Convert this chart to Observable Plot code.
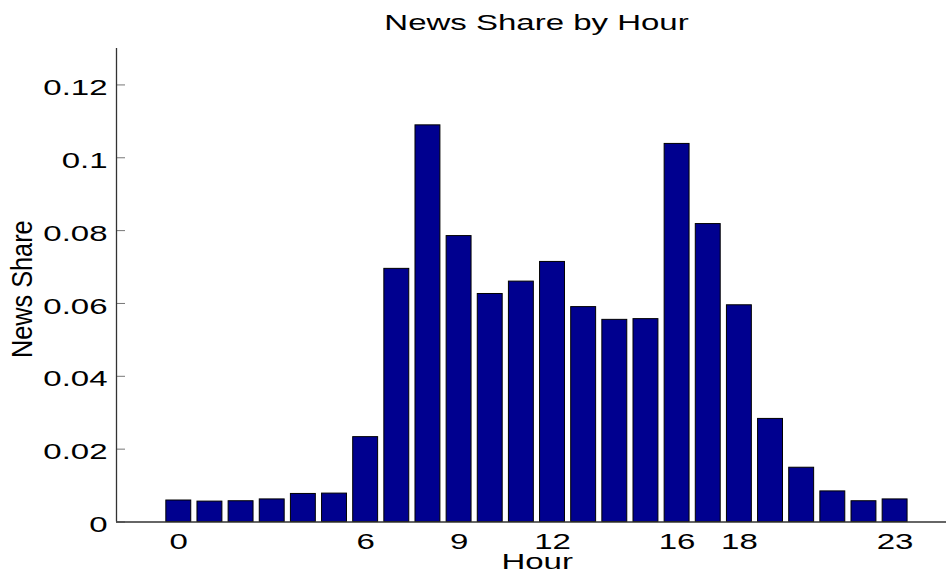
<!DOCTYPE html>
<html>
<head>
<meta charset="utf-8">
<script src="https://cdn.jsdelivr.net/npm/d3@7"></script>
<script src="https://cdn.jsdelivr.net/npm/@observablehq/plot@0.6"></script>
<style>
  html, body { margin: 0; padding: 0; background: #fff; }
</style>
</head>
<body>
<div id="chart"></div>
<script>
// ---- data ----
const hours = [0,1,2,3,4,5,6,7,8,9,10,11,12,13,14,15,16,17,18,19,20,21,22,23];
const newsShare = [0.0059,0.0056,0.0057,0.0062,0.0077,0.0078,0.0233,0.0695,0.1089,0.0785,
                   0.0626,0.0660,0.0714,0.0590,0.0555,0.0557,0.1038,0.0818,0.0595,0.0283,
                   0.0149,0.0084,0.0057,0.0062];
const xTicks = [0, 6, 9, 12, 16, 18, 23];
const yTicks = [0, 0.02, 0.04, 0.06, 0.08, 0.1, 0.12];
const xDomain = [-2, 24.65];
const yDomain = [0, 0.13];
const titleText = "News Share by Hour";
const xLabel = "Hour";
const yLabel = "News Share";

const data = hours.map((h, i) => ({hour: h, share: newsShare[i]}));
const barWidth = 0.8;
const font = "'Liberation Sans', Arial, Helvetica, sans-serif";

const chart = Plot.plot({
  width: 946,
  height: 573,
  marginLeft: 116,
  marginRight: 0,
  marginTop: 48,
  marginBottom: 51.5,
  style: {fontFamily: font, fontSize: "22px", color: "#000", background: "#fff"},
  x: {domain: xDomain},
  y: {domain: yDomain},
  marks: [
    // inward tick marks
    Plot.axisX({ticks: xTicks, tickSize: -9, tickFormat: () => "", stroke: "#777", label: null}),
    Plot.axisY({ticks: yTicks, tickSize: -9, tickFormat: () => "", stroke: "#777", label: null}),
    // tick labels
    Plot.axisX({ticks: xTicks, tickSize: 0, tickPadding: 11, fontSize: 22, label: null, fill: "#000"}),
    Plot.axisY({ticks: yTicks, tickSize: 0, tickPadding: 9, dy: 3, fontSize: 22, label: null, fill: "#000",
                tickFormat: d => d === 0 ? "0" : String(d)}),
    // bars
    Plot.rectY(data, {
      x1: d => d.hour - barWidth / 2,
      x2: d => d.hour + barWidth / 2,
      y: "share",
      fill: "#00008f",
      stroke: "#000",
      strokeWidth: 1
    }),
    // axis lines
    Plot.ruleY([yDomain[0]], {stroke: "#333", strokeWidth: 1.3}),
    Plot.ruleX([xDomain[0]], {stroke: "#333", strokeWidth: 1.3}),
    // title and labels
    Plot.text([titleText], {frameAnchor: "top", lineAnchor: "bottom", dx: 5, dy: -19, fontSize: 22, fill: "#000"}),
    Plot.text([xLabel], {frameAnchor: "bottom", lineAnchor: "bottom", dx: 5.7, dy: 46.5, fontSize: 22, fill: "#000"}),
    Plot.text([yLabel], {frameAnchor: "left", textAnchor: "middle", rotate: -90, dx: -94, dy: 4, fontSize: 22, fill: "#000"})
  ]
});

// stretch text horizontally like the reference rendering
d3.select(chart).selectAll("text").each(function() {
  const t = d3.select(this);
  const tr = t.attr("transform") || "";
  const s = t.text() === yLabel ? "1.15,1.37" : "1.5,1";
  t.attr("transform", tr + ` scale(${s})`);
});

document.getElementById("chart").appendChild(chart);
</script>
</body>
</html>
